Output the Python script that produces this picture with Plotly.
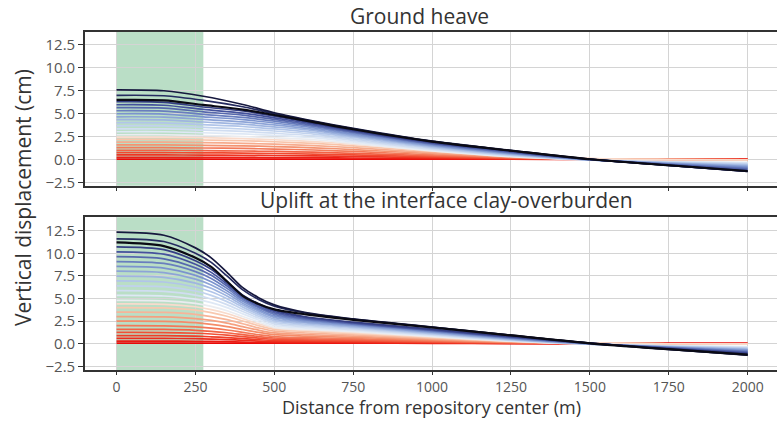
import plotly.graph_objects as go
from plotly.colors import sample_colorscale

# ---------------- data ----------------
x_heave = [0, 150, 275, 400, 500, 625, 750, 1000, 1250, 1500, 1750, 2000]

heave_early = [
    [0.05, 0.05, 0.05, 0.05, 0.05, 0.05, 0.05, 0.05, 0.05, 0.05, 0.05, 0.05],
    [0.25, 0.25, 0.24, 0.23, 0.22, 0.20, 0.17, 0.10, 0.04, 0.01, 0.00, 0.00],
    [0.50, 0.50, 0.49, 0.47, 0.44, 0.40, 0.34, 0.20, 0.09, 0.02, 0.00, -0.01],
    [0.75, 0.75, 0.73, 0.70, 0.66, 0.60, 0.51, 0.30, 0.13, 0.03, 0.00, -0.01],
    [1.00, 1.00, 0.97, 0.93, 0.88, 0.80, 0.68, 0.40, 0.17, 0.04, 0.00, -0.02],
    [1.30, 1.30, 1.26, 1.21, 1.14, 1.04, 0.88, 0.52, 0.22, 0.05, 0.00, -0.03],
    [1.60, 1.60, 1.55, 1.49, 1.41, 1.28, 1.09, 0.64, 0.27, 0.06, 0.00, -0.03],
    [1.90, 1.90, 1.84, 1.77, 1.67, 1.52, 1.29, 0.76, 0.32, 0.08, 0.00, -0.04],
    [2.20, 2.20, 2.13, 2.05, 1.94, 1.76, 1.50, 0.88, 0.37, 0.09, 0.00, -0.04],
    [2.45, 2.45, 2.38, 2.28, 2.16, 1.96, 1.67, 0.98, 0.42, 0.10, 0.00, -0.05],
]
heave_late = [
    [2.70, 2.70, 2.62, 2.51, 2.38, 2.16, 1.76, 0.95, 0.32, -0.05, -0.22, -0.30],
    [3.03, 3.03, 2.92, 2.79, 2.63, 2.38, 1.93, 1.05, 0.37, -0.05, -0.25, -0.36],
    [3.35, 3.34, 3.21, 3.06, 2.87, 2.58, 2.09, 1.14, 0.42, -0.05, -0.28, -0.42],
    [3.68, 3.67, 3.51, 3.33, 3.11, 2.77, 2.25, 1.24, 0.47, -0.05, -0.31, -0.49],
    [4.01, 3.99, 3.80, 3.60, 3.34, 2.96, 2.41, 1.33, 0.53, -0.04, -0.35, -0.57],
    [4.34, 4.32, 4.09, 3.86, 3.56, 3.14, 2.55, 1.42, 0.58, -0.04, -0.39, -0.65],
    [4.66, 4.63, 4.37, 4.10, 3.77, 3.29, 2.67, 1.50, 0.63, -0.03, -0.42, -0.74],
    [4.99, 4.96, 4.65, 4.35, 3.98, 3.45, 2.79, 1.59, 0.69, -0.02, -0.46, -0.83],
    [5.32, 5.28, 4.93, 4.60, 4.18, 3.60, 2.92, 1.67, 0.74, -0.01, -0.51, -0.93],
    [5.65, 5.60, 5.20, 4.84, 4.37, 3.73, 3.02, 1.75, 0.81, 0.01, -0.54, -1.03],
    [5.97, 5.92, 5.46, 5.06, 4.55, 3.86, 3.12, 1.82, 0.87, 0.02, -0.59, -1.14],
    [6.30, 6.24, 5.73, 5.29, 4.73, 3.97, 3.21, 1.89, 0.93, 0.03, -0.63, -1.26],
]
heave_final = [
    [7.00, 6.95, 6.45, 5.75, 5.00, 4.15, 3.35, 1.98, 0.98, 0.04, -0.64, -1.28],
    [7.60, 7.50, 6.90, 6.00, 5.10, 4.20, 3.40, 2.00, 1.00, 0.05, -0.65, -1.30],
]
heave_black = [6.50, 6.45, 5.95, 5.45, 4.85, 4.08, 3.30, 1.95, 0.96, 0.03, -0.62, -1.25]

x_uplift = [0, 150, 250, 300, 350, 400, 450, 500, 600, 750, 1000, 1250, 1500, 1750, 2000]

uplift_early = [
    [0.08, 0.08, 0.08, 0.08, 0.08, 0.08, 0.08, 0.08, 0.08, 0.08, 0.08, 0.08, 0.08, 0.08, 0.08],
    [0.30, 0.30, 0.28, 0.26, 0.23, 0.19, 0.15, 0.12, 0.10, 0.08, 0.05, 0.02, 0.01, 0.00, 0.00],
    [0.60, 0.59, 0.56, 0.52, 0.46, 0.38, 0.30, 0.24, 0.20, 0.17, 0.10, 0.04, 0.01, 0.00, -0.01],
    [0.90, 0.89, 0.84, 0.77, 0.68, 0.57, 0.45, 0.36, 0.31, 0.25, 0.15, 0.06, 0.02, 0.00, -0.01],
    [1.25, 1.24, 1.16, 1.08, 0.95, 0.79, 0.63, 0.50, 0.43, 0.35, 0.21, 0.09, 0.03, 0.00, -0.01],
    [1.60, 1.58, 1.49, 1.38, 1.22, 1.01, 0.80, 0.64, 0.54, 0.45, 0.27, 0.11, 0.03, 0.00, -0.02],
    [2.00, 1.98, 1.86, 1.72, 1.52, 1.26, 1.00, 0.80, 0.68, 0.56, 0.34, 0.14, 0.04, 0.00, -0.02],
    [2.50, 2.48, 2.33, 2.15, 1.90, 1.58, 1.25, 1.00, 0.85, 0.70, 0.43, 0.18, 0.05, 0.00, -0.03],
    [3.00, 2.97, 2.79, 2.58, 2.28, 1.89, 1.50, 1.20, 1.02, 0.84, 0.51, 0.21, 0.06, 0.00, -0.03],
    [3.50, 3.47, 3.26, 3.01, 2.66, 2.21, 1.75, 1.40, 1.19, 0.98, 0.60, 0.25, 0.07, 0.00, -0.04],
    [4.00, 3.96, 3.72, 3.44, 3.04, 2.52, 2.00, 1.60, 1.36, 1.12, 0.68, 0.28, 0.08, 0.00, -0.04],
    [4.40, 4.36, 4.09, 3.78, 3.34, 2.77, 2.20, 1.76, 1.50, 1.23, 0.75, 0.31, 0.09, 0.00, -0.04],
]
uplift_late = [
    [4.80, 4.75, 4.46, 4.13, 3.65, 3.02, 2.40, 1.82, 1.58, 1.34, 0.82, 0.29, -0.05, -0.19, -0.31],
    [5.34, 5.28, 4.93, 4.55, 4.00, 3.30, 2.63, 2.01, 1.74, 1.47, 0.90, 0.33, -0.05, -0.22, -0.36],
    [5.87, 5.79, 5.38, 4.95, 4.33, 3.56, 2.84, 2.20, 1.88, 1.58, 0.97, 0.37, -0.04, -0.25, -0.42],
    [6.41, 6.31, 5.83, 5.35, 4.66, 3.81, 3.05, 2.38, 2.03, 1.69, 1.06, 0.42, -0.04, -0.28, -0.48],
    [6.95, 6.83, 6.28, 5.75, 4.98, 4.05, 3.25, 2.56, 2.16, 1.80, 1.13, 0.46, -0.03, -0.31, -0.54],
    [7.48, 7.35, 6.71, 6.13, 5.27, 4.28, 3.44, 2.73, 2.30, 1.90, 1.20, 0.51, -0.02, -0.34, -0.61],
    [8.02, 7.86, 7.15, 6.50, 5.57, 4.49, 3.63, 2.91, 2.42, 2.00, 1.28, 0.55, -0.01, -0.36, -0.68],
    [8.55, 8.37, 7.56, 6.86, 5.85, 4.69, 3.80, 3.08, 2.55, 2.09, 1.34, 0.61, 0.00, -0.39, -0.75],
    [9.09, 8.88, 7.98, 7.22, 6.12, 4.88, 3.97, 3.25, 2.66, 2.17, 1.41, 0.65, 0.02, -0.43, -0.83],
    [9.63, 9.39, 8.39, 7.57, 6.38, 5.06, 4.13, 3.41, 2.77, 2.24, 1.48, 0.71, 0.03, -0.46, -0.91],
    [10.16, 9.90, 8.79, 7.89, 6.61, 5.22, 4.28, 3.57, 2.89, 2.32, 1.54, 0.76, 0.05, -0.50, -1.00],
    [10.70, 10.40, 9.18, 8.23, 6.85, 5.37, 4.42, 3.72, 2.99, 2.39, 1.61, 0.82, 0.06, -0.54, -1.08],
]
uplift_final = [
    [11.60, 11.30, 10.00, 9.00, 7.50, 5.95, 4.90, 4.15, 3.40, 2.72, 1.83, 0.94, 0.06, -0.61, -1.23],
    [12.35, 12.00, 10.60, 9.50, 7.90, 6.20, 5.10, 4.30, 3.45, 2.75, 1.85, 0.95, 0.07, -0.62, -1.25],
]
uplift_black = [11.20, 10.80, 9.50, 8.50, 6.90, 5.30, 4.40, 3.80, 3.25, 2.65, 1.80, 0.92, 0.05, -0.60, -1.20]

x_tickvals = [0, 250, 500, 750, 1000, 1250, 1500, 1750, 2000]
x_ticktext = ["0", "250", "500", "750", "1000", "1250", "1500", "1750", "2000"]
y_tickvals = [-2.5, 0, 2.5, 5, 7.5, 10, 12.5]
y_ticktext = ["\u22122.5", "0.0", "2.5", "5.0", "7.5", "10.0", "12.5"]
repository_extent = [0, 275]

panel_titles = ["Ground heave", "Uplift at the interface clay-overburden"]
x_title = "Distance from repository center (m)"
y_title = "Vertical displacement (cm)"

# ---------------- styling ----------------
cscale = [
    [0.00, "rgb(232,10,8)"],
    [0.14, "rgb(240,70,45)"],
    [0.28, "rgb(244,140,105)"],
    [0.40, "rgb(248,200,175)"],
    [0.48, "rgb(247,238,232)"],
    [0.55, "rgb(225,234,246)"],
    [0.66, "rgb(180,200,234)"],
    [0.78, "rgb(120,145,205)"],
    [0.90, "rgb(60,72,148)"],
    [1.00, "rgb(22,24,62)"],
]

def panel_colors(n_early, n_late, n_final):
    t = []
    for i in range(n_early):
        t.append(0.44 * i / max(n_early - 1, 1))
    for i in range(n_late):
        t.append(0.52 + 0.40 * i / max(n_late - 1, 1))
    for i in range(n_final):
        t.append(0.96 + 0.04 * i / max(n_final - 1, 1))
    return sample_colorscale(cscale, t)

FONT = "Open Sans"
TXT = "#333333"
W, H = 777, 421
ML, MR, MT, MB = 85, 0, 32, 51
PH = H - MT - MB
fig = go.Figure()

def add_panel(xv, early, late, final, black, xa, ya):
    rows = early + late + final
    cols = panel_colors(len(early), len(late), len(final))
    for r, c in zip(rows, cols):
        fig.add_trace(go.Scatter(x=xv, y=r, mode="lines", xaxis=xa, yaxis=ya,
                                 line=dict(color=c, width=1.7, shape="spline", smoothing=0.8),
                                 showlegend=False, hoverinfo="skip"))
    fig.add_trace(go.Scatter(x=xv, y=black, mode="lines", xaxis=xa, yaxis=ya,
                             line=dict(color="rgb(10,10,20)", width=2.2, shape="spline", smoothing=0.8),
                             showlegend=False, hoverinfo="skip"))

add_panel(x_heave, heave_early, heave_late, heave_final, heave_black, "x2", "y2")
add_panel(x_uplift, uplift_early, uplift_late, uplift_final, uplift_black, "x", "y")

axis_common = dict(
    range=[-100, 2093], tickvals=x_tickvals, ticktext=x_ticktext,
    showgrid=True, gridcolor="#d4d4d4", gridwidth=1.3, zeroline=False,
    showline=True, linecolor="#333333", linewidth=1.6, mirror=True,
    ticks="outside", ticklen=3, tickcolor="#333333", tickwidth=1.2,
    tickfont=dict(family=FONT, size=14, color="#555555"),
)
yaxis_common = dict(
    tickvals=y_tickvals, ticktext=y_ticktext,
    showgrid=True, gridcolor="#d4d4d4", gridwidth=1.3, zeroline=False,
    showline=True, linecolor="#333333", linewidth=1.6, mirror=False,
    ticks="outside", ticklen=5, tickcolor="#333333", tickwidth=1.2,
    tickfont=dict(family=FONT, size=15, color="#555555"),
)

def py(pixel_y):
    return (H - MB - pixel_y) / PH

def px(pixel_x):
    return (pixel_x - ML) / (W - ML - MR)

fig.update_layout(
    width=W, height=H,
    margin=dict(l=ML, r=MR, t=MT, b=MB),
    paper_bgcolor="white", plot_bgcolor="white",
    xaxis=dict(axis_common, anchor="y"),
    xaxis2=dict(axis_common, anchor="y2", matches="x", showticklabels=False),
    yaxis=dict(yaxis_common, domain=[0, py(217.3)], range=[-2.9, 13.98], anchor="x"),
    yaxis2=dict(yaxis_common, domain=[py(185.7), 1], range=[-2.85, 13.9], anchor="x2"),
    shapes=[
        dict(type="rect", xref="x", yref="y domain", x0=repository_extent[0], x1=repository_extent[1],
             y0=0, y1=1, fillcolor="rgb(186,222,198)", line=dict(width=0), layer="below"),
        dict(type="rect", xref="x2", yref="y2 domain", x0=repository_extent[0], x1=repository_extent[1],
             y0=0, y1=1, fillcolor="rgb(186,222,198)", line=dict(width=0), layer="below"),
    ],
    annotations=[
        dict(text=panel_titles[0], xref="paper", yref="paper", x=px(419.5), y=1.0,
             yshift=0, xanchor="center", yanchor="bottom", showarrow=False,
             font=dict(family=FONT, size=21, color=TXT)),
        dict(text=panel_titles[1], xref="paper", yref="paper", x=px(446), y=py(217.3),
             yshift=1, xanchor="center", yanchor="bottom", showarrow=False,
             font=dict(family=FONT, size=21, color=TXT)),
        dict(text=x_title, xref="paper", yref="paper", x=px(432), y=py(421),
             xanchor="center", yanchor="bottom", showarrow=False,
             font=dict(family=FONT, size=18, color=TXT)),
        dict(text=y_title, xref="paper", yref="paper", x=0, xshift=-62, y=py(198),
             textangle=-90, xanchor="center", yanchor="middle", showarrow=False,
             font=dict(family=FONT, size=21, color=TXT)),
    ],
)

fig.write_html("out.html", config={"displayModeBar": False},
               post_script="document.body.style.margin='0px';")
